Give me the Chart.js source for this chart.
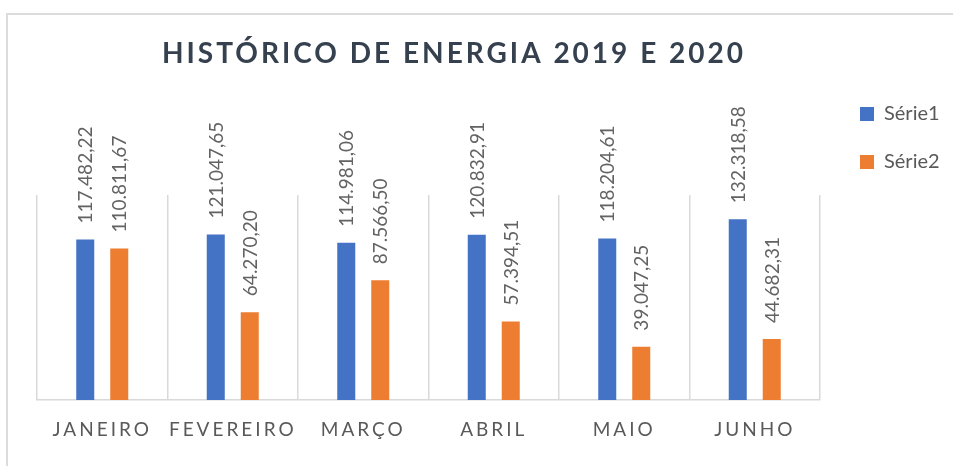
<!DOCTYPE html>
<html lang="pt-BR">
<head>
<meta charset="utf-8">
<title>Histórico de energia 2019 e 2020</title>
<script src="https://cdn.jsdelivr.net/npm/chart.js@4.4.1/dist/chart.umd.min.js"></script>
<style>
  html, body { margin: 0; padding: 0; background: #fff; }
  #wrap { position: relative; width: 953px; height: 466px; overflow: hidden; }
  #frame {
    position: absolute; left: 6px; top: 13px; right: -10px; bottom: -10px;
    border-left: 2px solid #dcdcdc; border-top: 2px solid #dcdcdc;
  }
  canvas { position: absolute; left: 0; top: 0; }
</style>
</head>
<body>
<div id="wrap">
  <div id="frame"></div>
  <canvas id="energyChart" width="953" height="466"></canvas>
</div>
<script>
const months = ['JANEIRO', 'FEVEREIRO', 'MARÇO', 'ABRIL', 'MAIO', 'JUNHO'];
const serie1 = [117482.22, 121047.65, 114981.06, 120832.91, 118204.61, 132318.58];
const serie2 = [110811.67, 64270.20, 87566.50, 57394.51, 39047.25, 44682.31];
const seriesNames = ['Série1', 'Série2'];
const yMax = 150000;

const GRAY = '#595959';
const LINE = '#d9d9d9';

// 117482.22 -> "117.482,22"
function formatBR(value) {
  const [int, dec] = value.toFixed(2).split('.');
  return int.replace(/\B(?=(\d{3})+(?!\d))/g, '.') + ',' + dec;
}

// canvas letter spacing, only around one draw method
function withSpacing(target, method, spacing) {
  if (!target || target['_spaced_' + method]) return;
  const original = target[method];
  target[method] = function (...args) {
    const ctx = this.ctx;
    ctx.save();
    ctx.letterSpacing = spacing;
    original.apply(this, args);
    ctx.restore();
  };
  target['_spaced_' + method] = true;
}

// legend sits up by the title, title is centred a bit left like the original
const placeBoxes = {
  id: 'placeBoxes',
  afterLayout(chart) {
    const lg = chart.legend;
    const lh = lg.height;
    lg.left = 832;
    lg.right = 953;
    lg.top = 76;
    lg.bottom = lg.top + lh;

    const tb = chart.titleBlock;
    const tw = tb.right - tb.left;
    tb.left = 454 - tw / 2;
    tb.right = tb.left + tw;

    withSpacing(tb, 'draw', '3px');
    withSpacing(chart.scales.x, 'drawLabels', '3px');
  }
};

const barLabels = {
  id: 'barLabels',
  afterDatasetsDraw(chart) {
    const { ctx } = chart;
    ctx.save();
    ctx.font = '19px Lato';
    ctx.fillStyle = '#636363';
    ctx.textAlign = 'left';
    ctx.textBaseline = 'middle';
    chart.data.datasets.forEach((ds, i) => {
      chart.getDatasetMeta(i).data.forEach((bar, j) => {
        ctx.save();
        ctx.translate(bar.x + 1, bar.y - 16);
        ctx.rotate(-Math.PI / 2);
        ctx.fillText(formatBR(ds.data[j]), 0, 0);
        ctx.restore();
      });
    });
    ctx.restore();
  }
};

new Chart(document.getElementById('energyChart'), {
  type: 'bar',
  data: {
    labels: months,
    datasets: [
      { label: seriesNames[0], data: serie1, backgroundColor: '#4472c4' },
      { label: seriesNames[1], data: serie2, backgroundColor: '#ed7d31' }
    ]
  },
  options: {
    responsive: false,
    animation: false,
    categoryPercentage: 0.521,
    barPercentage: 0.53,
    layout: { padding: { left: 37, right: 33, top: 0, bottom: 0 } },
    plugins: {
      title: {
        display: true,
        text: 'HISTÓRICO DE ENERGIA 2019 E 2020',
        color: '#36414f',
        font: { family: 'Lato', size: 28, weight: 'bold', lineHeight: 1.2 },
        padding: { top: 37, bottom: 124.4 }
      },
      legend: {
        position: 'right',
        align: 'start',
        maxWidth: 100,
        labels: {
          boxWidth: 14,
          boxHeight: 14,
          padding: 28,
          color: GRAY,
          font: { family: 'Lato', size: 20 }
        }
      },
      tooltip: { enabled: false }
    },
    scales: {
      x: {
        grid: { offset: true, color: LINE, lineWidth: 1.5, drawTicks: false },
        border: { color: LINE, width: 1.5 },
        ticks: { color: GRAY, padding: 18, font: { family: 'Lato', size: 19 } },
        afterFit: (scale) => { scale.height = 66; }
      },
      y: { display: false, min: 0, max: yMax }
    }
  },
  plugins: [placeBoxes, barLabels]
});
</script>
</body>
</html>
